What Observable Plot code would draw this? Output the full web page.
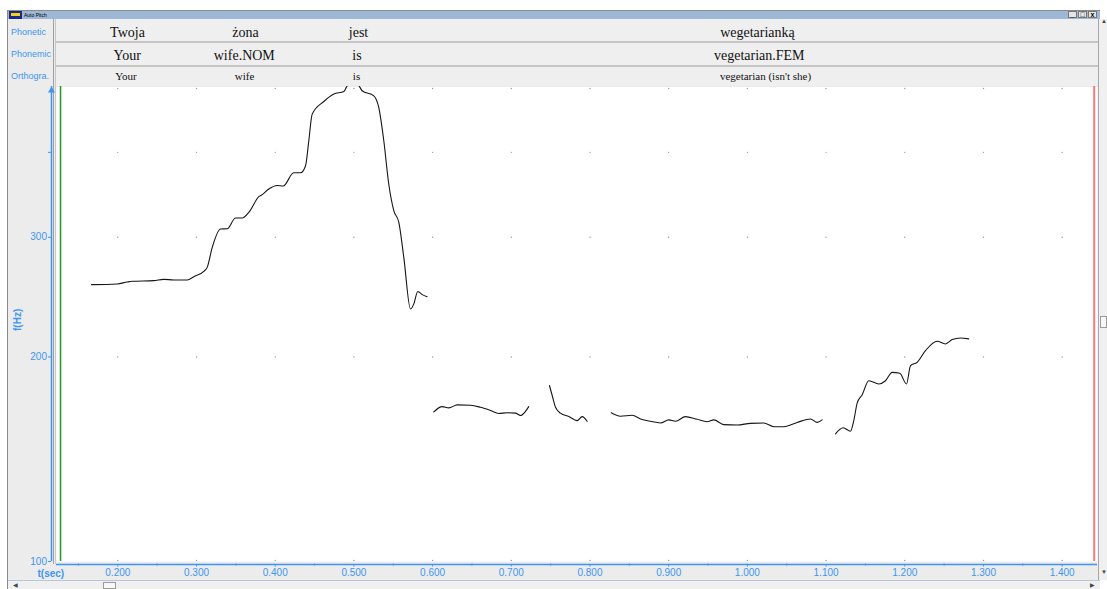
<!DOCTYPE html>
<html><head><meta charset="utf-8">
<script src="https://cdn.jsdelivr.net/npm/d3@7"></script>
<script src="https://cdn.jsdelivr.net/npm/@observablehq/plot@0.6"></script>
<style>
body{margin:0;width:1107px;height:589px;overflow:hidden;background:#fff;position:relative;font-family:"Liberation Sans",Arial,sans-serif;}
.a{position:absolute;box-sizing:border-box;}
.lbl{color:#3d95f2;font-size:9px;left:11px;line-height:12px;}
.btn{top:11px;width:9px;height:7px;background:#e4e4e4;border:1px solid #777;font-size:7px;line-height:5px;text-align:center;color:#000;font-weight:bold;}
#chart{position:absolute;left:0;top:0;}
</style></head><body>
<!-- window chrome -->
<div class="a" style="left:7px;top:10px;width:1093px;height:579px;background:#ececec;border-left:1px solid #8a8a8a;border-top:1px solid #8a8a8a"></div>
<div class="a" style="left:8px;top:11px;width:1092px;height:8px;background:#9db8d6"></div>
<div class="a" style="left:9px;top:11px;width:13px;height:8px;background:#1b2a80"></div>
<div class="a" style="left:11px;top:13px;width:9px;height:3px;background:#f2d21a"></div>
<div class="a" style="left:24px;top:11px;font-size:5px;line-height:8px;color:#000">Auto Pitch</div>
<div class="a btn" style="left:1068px">_</div>
<div class="a btn" style="left:1078px">&#9633;</div>
<div class="a btn" style="left:1088px">x</div>
<!-- annotation tiers -->
<div class="a" style="left:53px;top:19px;width:1px;height:545px;background:#a0a0a0"></div>
<div class="a" style="left:55px;top:19px;width:1px;height:545px;background:#c8c8c8"></div>
<div class="a" style="left:56px;top:19px;width:1042px;height:24px;background:#efefef;border-bottom:2px solid #c6c6c6"></div>
<div class="a" style="left:56px;top:43px;width:1042px;height:24px;background:#efefef;border-bottom:2px solid #c6c6c6"></div>
<div class="a" style="left:56px;top:67px;width:1042px;height:20px;background:#efefef;border-bottom:1px solid #d4d4d4"></div>
<div class="a lbl" style="top:26px">Phonetic</div>
<div class="a lbl" style="top:48px">Phonemic</div>
<div class="a lbl" style="top:70px">Orthogra.</div>
<!-- scrollbars -->
<div class="a" style="left:1098px;top:19px;width:9px;height:561px;background:#f0f0f0;border-left:1px solid #a8a8a8"></div>
<div class="a" style="left:1100px;top:316px;width:7px;height:12px;background:#f8f8f8;border:1px solid #9a9a9a"></div>
<div class="a" style="left:1101px;top:18px;font-size:6px;color:#444">&#9650;</div>
<div class="a" style="left:1101px;top:569px;font-size:6px;color:#444">&#9660;</div>
<div class="a" style="left:8px;top:580px;width:1092px;height:9px;background:#f0f0f0;border-top:1px solid #b8c8dc"></div>
<div class="a" style="left:103px;top:582px;width:13px;height:7px;background:#f8f8f8;border:1px solid #9a9a9a"></div>
<div class="a" style="left:13px;top:581px;font-size:6px;color:#444">&#9664;</div>
<div class="a" style="left:1090px;top:581px;font-size:6px;color:#444">&#9654;</div>
<div id="chart"></div>
<script>
// ---- data ----
const xDomain = [0.1221, 1.4449];          // seconds
const yDomain = [100, 500];                // Hz (log)
const xTicks = [0.2, 0.3, 0.4, 0.5, 0.6, 0.7, 0.8, 0.9, 1.0, 1.1, 1.2, 1.3, 1.4];
const xMinorTicks = [0.15, 0.25, 0.35, 0.45, 0.55, 0.65, 0.75, 0.85, 0.95, 1.05, 1.15, 1.25, 1.35];
const yTicks = [100, 200, 300, 400];
const yTickLabels = ["100", "200", "300", ""];
const gridY = [200, 300, 400];
const cursorStart = 0.1272;
const cursorEnd = 1.4407;

const phonetic = ["Twoja", "żona", "jest", "wegetarianką"];
const phoneticT = [0.2123, 0.3623, 0.5059, 1.0128];
const phonemic = ["Your", "wife.NOM", "is", "vegetarian.FEM"];
const phonemicT = [0.2119, 0.3607, 0.5039, 1.0151];
const orthographic = ["Your", "wife", "is", "vegetarian (isn't she)"];
const orthographicT = [0.2104, 0.3610, 0.5033, 1.0230];

// pitch segments: [time (s), f0 (Hz)]
const seg1 = [[0.1666,255.5],[0.1992,256.1],[0.2119,257.8],[0.2183,258.4],[0.2457,259.0],[0.2585,260.1],[0.2712,259.6],[0.2882,259.6],[0.2966,262.5],[0.3093,267.3],[0.3136,270.9],[0.3200,289.9],[0.3305,308.5],[0.3390,308.8],[0.3496,320.2],[0.3581,320.2],[0.3665,326.4],[0.3792,344.2],[0.3835,346.6],[0.3919,353.3],[0.4026,357.6],[0.4102,356.9],[0.4236,373.3],[0.4322,373.3],[0.4385,381.9],[0.4427,416.0],[0.4470,455.3],[0.4618,475.2],[0.4745,487.3],[0.4872,491.6],[0.4905,499],[0.4985,512],[0.5075,499],[0.5105,492.8],[0.5253,484.5],[0.5316,465.7],[0.5380,416.0],[0.5443,359.3],[0.5507,328.3],[0.5571,315.5],[0.5634,280.3],[0.5719,235.3],[0.5761,239.3],[0.5812,249.7],[0.5868,247.0],[0.5931,245.3]];
const seg2 = [[0.6015,166.0],[0.6122,169.0],[0.6206,168.3],[0.6313,170.0],[0.6482,169.8],[0.6609,168.6],[0.6736,166.8],[0.6841,165.1],[0.6948,165.5],[0.7053,165.3],[0.7117,164.0],[0.7180,166.3],[0.7222,169.0]];
const seg3 = [[0.7485,181.5],[0.7520,175.5],[0.7562,168.6],[0.7625,165.3],[0.7731,163.4],[0.7837,161.2],[0.7901,163.4],[0.7964,160.8]];
const seg4 = [[0.8269,165.5],[0.8388,163.6],[0.8536,164.1],[0.8642,162.1],[0.8769,160.8],[0.8896,159.9],[0.9001,161.6],[0.9086,160.8],[0.9213,163.4],[0.9362,161.9],[0.9489,160.6],[0.9573,161.6],[0.9700,159.0],[0.9870,158.8],[1.0039,159.7],[1.0208,159.9],[1.0336,157.9],[1.0463,157.9],[1.0633,160.2],[1.0802,162.1],[1.0887,160.2],[1.0950,161.6]];
const seg5 = [[1.1120,154.1],[1.1217,157.3],[1.1310,155.5],[1.1352,161.2],[1.1395,171.0],[1.1459,176.0],[1.1543,184.5],[1.1670,182.5],[1.1755,184.5],[1.1840,189.8],[1.1937,189.2],[1.2022,182.5],[1.2073,194.2],[1.2157,196.4],[1.2263,204.3],[1.2411,210.9],[1.2517,209.0],[1.2602,212.1],[1.2708,213.3],[1.2813,212.6]];

// ---- build ----
const blue = "#3d95f2";
const pitch = [seg1, seg2, seg3, seg4, seg5].flatMap((s, k) => s.map(([t, f]) => ({t, f, seg: k})));
const grid = xTicks.flatMap(x => gridY.map(y => ({x, y})));
const tiers = [
  {words: phonetic, times: phoneticT, dy: -54, size: 14},
  {words: phonemic, times: phonemicT, dy: -31, size: 14},
  {words: orthographic, times: orthographicT, dy: -10, size: 11}
];

const chart = Plot.plot({
  width: 1107, height: 589,
  marginLeft: 56, marginRight: 10, marginTop: 86, marginBottom: 28,
  style: {background: "transparent", overflow: "visible", color: blue, fontFamily: "Liberation Sans, Arial, sans-serif"},
  x: {domain: xDomain, axis: null},
  y: {type: "log", domain: yDomain, axis: null},
  marks: [
    Plot.frame({fill: "white", stroke: null}),
    Plot.dot(grid, {x: "x", y: "y", r: 0.7, fill: "#9a9a9a", stroke: null}),
    Plot.dot(xTicks, {x: d => d, frameAnchor: "top", dy: 2, r: 0.7, fill: "#9a9a9a", stroke: null}),
    Plot.dot(xTicks, {x: d => d, frameAnchor: "bottom", dy: -1, r: 0.7, fill: "#9a9a9a", stroke: null}),
    Plot.ruleX([cursorStart], {stroke: "#1e9a1e", strokeWidth: 1.5}),
    Plot.ruleX([cursorEnd], {stroke: "#ff7878", strokeWidth: 2}),
    Plot.line(pitch, {x: "t", y: "f", z: "seg", stroke: "#151515", strokeWidth: 1.1, curve: "monotone-x", clip: true}),
    // axes
    Plot.ruleY([yDomain[0]], {stroke: blue, strokeWidth: 1.5, dy: 3}),
    Plot.ruleX([xDomain[0]], {stroke: blue, strokeWidth: 1.5, dx: -5}),
    Plot.dot([0], {frameAnchor: "top-left", dx: -5, dy: 4, symbol: "triangle", r: 2.6, fill: blue, stroke: null}),
    Plot.dot(xMinorTicks, {x: d => d, frameAnchor: "bottom", dy: 3, r: 1, fill: blue, stroke: null}),
    Plot.axisX({ticks: xTicks, tickFormat: d3.format(".3f"), anchor: "bottom", dy: 3, tickSize: 2.5, tickPadding: 2, fontSize: 10, stroke: blue, fill: blue}),
    Plot.axisY({ticks: yTicks, tickFormat: (d, i) => yTickLabels[yTicks.indexOf(d)], anchor: "left", dx: -5, tickSize: 3, tickPadding: 1.5, fontSize: 10, stroke: blue, fill: blue}),
    Plot.text(["f(Hz)"], {text: d => d, frameAnchor: "left", dx: -39, dy: 7, rotate: -90, fontWeight: "bold", fontSize: 10, fill: blue}),
    Plot.text(["t(sec)"], {text: d => d, frameAnchor: "bottom-left", dx: -19, dy: 12, lineAnchor: "middle", fontWeight: "bold", fontSize: 10, fill: blue}),
    // annotation tiers
    ...tiers.map(tr => Plot.text(tr.times, {x: d => d, text: (d, i) => tr.words[i], frameAnchor: "top", lineAnchor: "middle", dy: tr.dy, fontFamily: "Liberation Serif, Times New Roman, serif", fontSize: tr.size, fill: "#111"}))
  ]
});
document.getElementById("chart").appendChild(chart);
</script>
</body></html>
